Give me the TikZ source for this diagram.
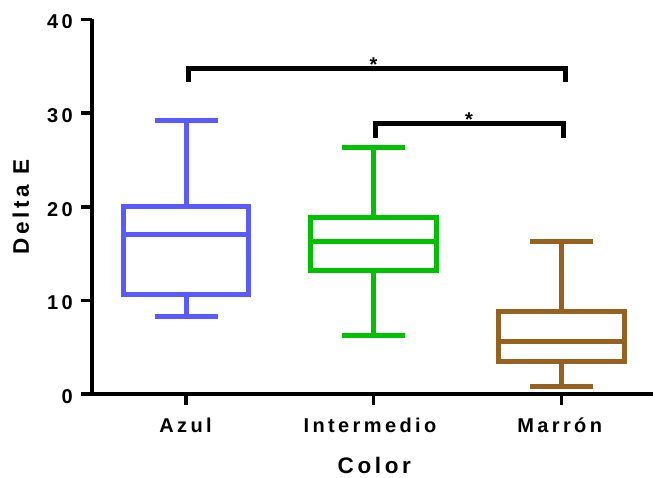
\documentclass[tikz,border=0pt]{standalone}
\usepackage{fontspec}
\setmainfont{Liberation Sans}
\newfontfamily\lbl[LetterSpace=17]{Liberation Sans}
\newfontfamily\ttl[LetterSpace=16]{Liberation Sans}
\definecolor{cblue}{RGB}{90,90,255}
\definecolor{cgreen}{RGB}{0,192,0}
\definecolor{cbrown}{RGB}{150,98,34}
\begin{document}
\begin{tikzpicture}[x=1pt,y=-1pt,
  axisline/.style={line width=3.6pt,line cap=butt},
  boxline/.style={line width=5pt,line join=miter},
  brk/.style={line width=5pt,line join=miter,line cap=butt},
  txt/.style={font=\fontsize{20}{20}\selectfont\lbl\bfseries,inner sep=0pt},
  ttxt/.style={font=\fontsize{22.5}{22.5}\selectfont\ttl\bfseries,inner sep=0pt},
  star/.style={font=\fontsize{20}{20}\selectfont\bfseries,inner sep=0pt}]
\useasboundingbox (0,0) rectangle (653,477);
% axes
\draw[axisline] (92,19) -- (92,394) -- (653,394);
\foreach \yy/\lab in {19.5/40,113/30,206.7/20,300.3/10,394/0}{
  \draw[axisline] (81,\yy) -- (92,\yy);
  \node[txt,anchor=east] (t\lab) at (73,\yy+2.5) {\lab};
}
\foreach \xx/\nm in {186/azul,373.5/inter,561.5/marron}{
  \draw[axisline] (\xx,394) -- (\xx,405);
}
\node[txt] (lazul) at (185.5,425.5) {Azul};
\node[txt] (linter) at (370,425.5) {Intermedio};
\node[txt] (lmarron) at (559.7,425.5) {Marrón};
\node[ttxt] (xlab) at (374.3,465.5) {Color};
\node[ttxt,rotate=90] (ylab) at (20.8,207) {Delta E};
% Azul
\begin{scope}[boxline,draw=cblue]
\draw (123.5,206.5) rectangle (248.5,294.5);
\draw (123.5,234) -- (248.5,234);
\draw (186,206.5) -- (186,120) (155,120) -- (218,120);
\draw (186,294.5) -- (186,316.5) (155,316.5) -- (218,316.5);
\end{scope}
% Intermedio
\begin{scope}[boxline,draw=cgreen]
\draw (310.5,217.5) rectangle (436.5,270);
\draw (310.5,241.5) -- (436.5,241.5);
\draw (373.5,217.5) -- (373.5,147) (342,147) -- (405,147);
\draw (373.5,270) -- (373.5,335.5) (342,335.5) -- (405,335.5);
\end{scope}
% Marron
\begin{scope}[boxline,draw=cbrown]
\draw (498.5,311.5) rectangle (624.5,361);
\draw (498.5,341.5) -- (624.5,341.5);
\draw (561.5,311.5) -- (561.5,241) (530,241) -- (593,241);
\draw (561.5,361) -- (561.5,386) (530,386) -- (593,386);
\end{scope}
% brackets
\coordinate (b1a) at (188,82);
\coordinate (b1b) at (565,82);
\draw[brk] (b1a) -- (188,68) -- (565,68) -- (b1b);
\node[star] (s1) at (373.5,64.5) {*};
\coordinate (b2a) at (375.5,138);
\coordinate (b2b) at (563,138);
\draw[brk] (b2a) -- (375.5,123) -- (563,123) -- (b2b);
\node[star] (s2) at (469,119.5) {*};
\end{tikzpicture}
\end{document}
